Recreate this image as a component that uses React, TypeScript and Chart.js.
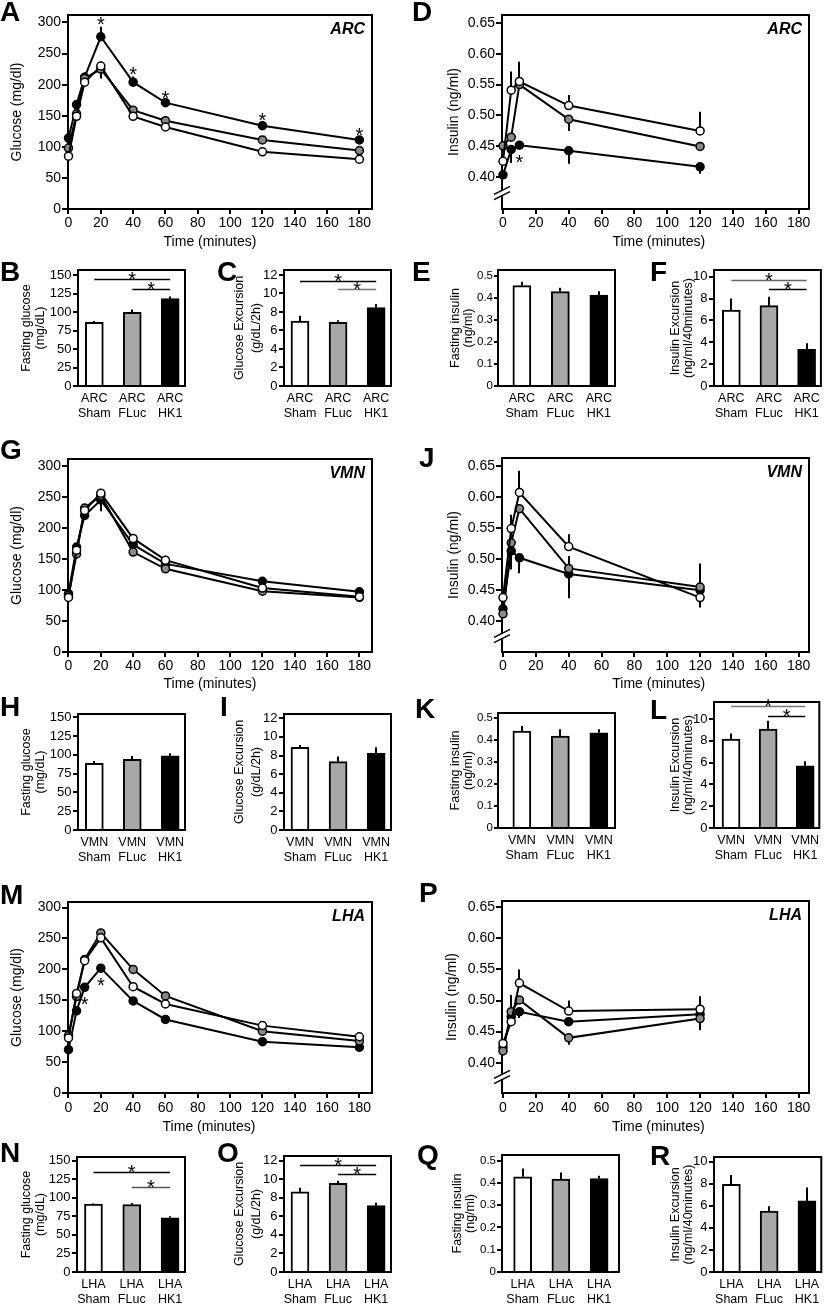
import React, { useEffect, useRef } from "react";
import { Chart, registerables } from "chart.js";

Chart.register(...registerables);

const FONT = "'Liberation Sans', Arial, Helvetica, sans-serif";

// ---------------- shared ticks / categories ----------------
const timeTicks = [0, 20, 40, 60, 80, 100, 120, 140, 160, 180];
const glucoseTimes = [0, 5, 10, 20, 40, 60, 120, 180];
const insulinTimes = [0, 5, 10, 40, 120];
const glucoseTicks = [0, 50, 100, 150, 200, 250, 300];
const glucoseTickLabels = ["0", "50", "100", "150", "200", "250", "300"];
const insulinTicks = [0.4, 0.45, 0.5, 0.55, 0.6, 0.65];
const insulinTickLabels = ["0.40", "0.45", "0.50", "0.55", "0.60", "0.65"];
const fastingGlucoseTicks = [0, 25, 50, 75, 100, 125, 150];
const fastingGlucoseTickLabels = ["0", "25", "50", "75", "100", "125", "150"];
const glucoseExcursionTicks = [0, 2, 4, 6, 8, 10, 12];
const glucoseExcursionTickLabels = ["0", "2", "4", "6", "8", "10", "12"];
const fastingInsulinTicks = [0, 0.1, 0.2, 0.3, 0.4, 0.5];
const fastingInsulinTickLabels = ["0", "0.1", "0.2", "0.3", "0.4", "0.5"];
const insulinExcursionTicks = [0, 2, 4, 6, 8, 10];
const insulinExcursionTickLabels = ["0", "2", "4", "6", "8", "10"];
const groupNames = ["Sham", "FLuc", "HK1"];
const groupIndex = [0, 1, 2];

// ---------------- ARC ----------------
const arcGlucoseSham = [85, 149, 204, 230, 149, 132, 92, 80];
const arcGlucoseShamErr = [3, 3, 3, 6, 3, 3, 3, 3];
const arcGlucoseFluc = [98, 153, 210, 225, 159, 142, 111, 94];
const arcGlucoseFlucErr = [3, 3, 4, -15, 3, 3, 3, 3];
const arcGlucoseHk1 = [114, 168, 212, 277, 204, 171, 134, 111];
const arcGlucoseHk1Err = [4, 4, 8, 16, 9, 3, 5, 4];
const arcGlucoseStarTimes = [20, 40, 60, 120, 180];

const arcInsulinSham = [0.426, 0.541, 0.555, 0.516, 0.475];
const arcInsulinShamErr = [0.004, 0.03, 0.032, 0.017, 0.031];
const arcInsulinFluc = [0.451, 0.465, 0.55, 0.494, 0.45];
const arcInsulinFlucErr = [0.004, 0.004, 0.004, -0.019, 0.004];
const arcInsulinHk1 = [0.404, 0.445, 0.452, 0.443, 0.417];
const arcInsulinHk1Err = [0.004, -0.022, 0.004, -0.021, -0.011];
const arcInsulinStarTimes = [10];

const arcFastingGlucose = [86, 99.5, 118];
const arcFastingGlucoseErr = [2, 4, 3];
const arcGlucoseExcursion = [7.03, 6.88, 8.47];
const arcGlucoseExcursionErr = [0.57, 0.23, 0.4];
const arcFastingInsulin = [0.455, 0.428, 0.412];
const arcFastingInsulinErr = [0.018, 0.018, 0.018];
const arcInsulinExcursion = [6.95, 7.35, 3.35];
const arcInsulinExcursionErr = [1.05, 0.82, 0.55];

// ---------------- VMN ----------------
const vmnGlucoseSham = [88, 164, 228, 256, 183, 148, 103, 89];
const vmnGlucoseShamErr = [3, 3, 4, 4, 4, 3, 3, 3];
const vmnGlucoseFluc = [91, 158, 232, 252, 161, 134, 98, 88];
const vmnGlucoseFlucErr = [3, 3, 3, 4, -6, -5, -5, -5];
const vmnGlucoseHk1 = [94, 169, 220, 245, 173, 142, 114, 97];
const vmnGlucoseHk1Err = [3, 3, -6, -18, 4, 3, 7, 5];

const vmnInsulinSham = [0.438, 0.549, 0.607, 0.52, 0.438];
const vmnInsulinShamErr = [0.004, 0.01, 0.035, 0.02, -0.016];
const vmnInsulinFluc = [0.412, 0.526, 0.581, 0.485, 0.455];
const vmnInsulinFlucErr = [0.004, 0.045, 0.004, 0.02, 0.038];
const vmnInsulinHk1 = [0.42, 0.513, 0.502, 0.476, 0.45];
const vmnInsulinHk1Err = [0.004, -0.03, -0.025, -0.039, 0.004];

const vmnFastingGlucose = [88.8, 94.1, 98.6];
const vmnFastingGlucoseErr = [3, 4.5, 3.5];
const vmnGlucoseExcursion = [8.89, 7.35, 8.24];
const vmnGlucoseExcursionErr = [0.25, 0.55, 0.65];
const vmnFastingInsulin = [0.442, 0.419, 0.434];
const vmnFastingInsulinErr = [0.023, 0.031, 0.016];
const vmnInsulinExcursion = [8.16, 9.08, 5.71];
const vmnInsulinExcursionErr = [0.52, 0.77, 0.42];

// ---------------- LHA ----------------
const lhaGlucoseSham = [89, 161, 214, 251, 172, 144, 109, 91];
const lhaGlucoseShamErr = [3, 3, 6, 3, 3, 3, 3, 3];
const lhaGlucoseFluc = [93, 156, 216, 259, 200, 157, 100, 84];
const lhaGlucoseFlucErr = [3, 3, 7, 3, 5, 3, 3, 3];
const lhaGlucoseHk1 = [70, 133, 171, 202, 149, 119, 83, 74];
const lhaGlucoseHk1Err = [3, 3, 3, 3, 3, -4, -4, -3];
const lhaGlucoseStarTimes = [10, 20];

const lhaInsulinSham = [0.431, 0.466, 0.528, 0.483, 0.486];
const lhaInsulinShamErr = [0.004, 0.004, 0.022, 0.017, 0.021];
const lhaInsulinFluc = [0.419, 0.482, 0.501, 0.44, 0.471];
const lhaInsulinFlucErr = [0.004, 0.027, 0.004, -0.011, -0.019];
const lhaInsulinHk1 = [0.425, 0.474, 0.482, 0.466, 0.478];
const lhaInsulinHk1Err = [0.004, -0.008, -0.01, -0.004, 0.004];

const lhaFastingGlucose = [91.4, 91, 73];
const lhaFastingGlucoseErr = [1, 2, 2.2];
const lhaGlucoseExcursion = [8.65, 9.55, 7.15];
const lhaGlucoseExcursionErr = [0.43, 0.29, 0.31];
const lhaFastingInsulin = [0.428, 0.417, 0.42];
const lhaFastingInsulinErr = [0.037, 0.03, 0.012];
const lhaInsulinExcursion = [7.94, 5.52, 6.45];
const lhaInsulinExcursionErr = [0.85, 0.45, 1.22];

// significance brackets: [from group, to group, level (data units), colour]
const arcFastingGlucoseSig: any[] = [[0, 2, 145, "#000"], [1, 2, 131, "#000"]];
const arcGlucoseExcursionSig: any[] = [[0, 2, 11.4, "#000"], [1, 2, 10.45, "#777"]];
const arcInsulinExcursionSig: any[] = [[0, 2, 9.7, "#666"], [1, 2, 8.87, "#000"]];
const vmnInsulinExcursionSig: any[] = [[0, 2, 11.16, "#777"], [1, 2, 10.33, "#000"]];
const lhaFastingGlucoseSig: any[] = [[0, 2, 135, "#000"], [1, 2, 115, "#555"]];
const lhaGlucoseExcursionSig: any[] = [[0, 2, 11.54, "#000"], [1, 2, 10.54, "#000"]];

// ---------------- styles ----------------
const WHITE = "#ffffff";
const GRAY_PT = "#8a8a8a";
const GRAY_BAR = "#a8a8a8";
const BLACK = "#000000";
const STAR_SIZE = 20;

function drawStar(ctx: any, x: number, yc: number, size: number) {
  ctx.font = `${size}px ${FONT}`;
  ctx.textAlign = "center";
  ctx.textBaseline = "alphabetic";
  ctx.fillStyle = "#000";
  ctx.fillText("*", x, yc + 0.58 * size);
}

const decoPlugin: any = {
  id: "panelDeco",
  beforeDatasetsDraw(chart: any, _a: any, o: any) {
    const { ctx, chartArea: a } = chart;
    const xs = chart.scales.x;
    const ys = chart.scales.y;
    ctx.save();
    ctx.strokeStyle = "#000";
    ctx.lineWidth = 2;
    ctx.strokeRect(a.left, a.top, a.right - a.left, a.bottom - a.top);
    chart.data.datasets.forEach((ds: any) => {
      if (!ds.errors) return;
      ctx.strokeStyle = "#000";
      ctx.lineWidth = o.errWidth || 2;
      ds.data.forEach((pt: any, i: number) => {
        const e = ds.errors[i];
        if (!e) return;
        const x = Math.round(xs.getPixelForValue(pt.x));
        ctx.beginPath();
        ctx.moveTo(x, ys.getPixelForValue(pt.y));
        ctx.lineTo(x, ys.getPixelForValue(pt.y + e));
        ctx.stroke();
      });
    });
    ctx.restore();
  },
  afterDraw(chart: any, _a: any, o: any) {
    const { ctx, chartArea: a } = chart;
    const xs = chart.scales.x;
    const ys = chart.scales.y;
    ctx.save();
    if (o.axisBreak) {
      const x = a.left;
      const y = a.bottom - 16;
      ctx.strokeStyle = "#fff";
      ctx.lineWidth = 4;
      ctx.beginPath();
      ctx.moveTo(x - 4, y + 2);
      ctx.lineTo(x + 4, y - 2);
      ctx.stroke();
      ctx.strokeStyle = "#000";
      ctx.lineWidth = 1.6;
      [-2.6, 2.6].forEach((d) => {
        ctx.beginPath();
        ctx.moveTo(x - 8, y + 4 + d);
        ctx.lineTo(x + 8, y - 4 + d);
        ctx.stroke();
      });
    }
    if (o.region) {
      ctx.font = `italic bold 16px ${FONT}`;
      ctx.textAlign = "right";
      ctx.textBaseline = "middle";
      ctx.fillStyle = "#000";
      ctx.fillText(o.region, a.right - 7, a.top + 14.5);
    }
    if (o.xTitle) {
      ctx.font = `14px ${FONT}`;
      ctx.textAlign = "center";
      ctx.textBaseline = "middle";
      ctx.fillStyle = "#000";
      ctx.fillText(o.xTitle.text, o.xTitle.x, o.xTitle.y);
    }
    (o.stars || []).forEach((s: any) => {
      const ds = chart.data.datasets[s.series];
      s.times.forEach((t: number) => {
        const i = ds.data.findIndex((p: any) => p.x === t);
        if (i < 0) return;
        const pt = ds.data[i];
        const e = ds.errors ? ds.errors[i] : 0;
        const x = xs.getPixelForValue(t);
        const y = s.below
          ? ys.getPixelForValue(pt.y) + 12
          : ys.getPixelForValue(pt.y + Math.max(e, 0)) - 7;
        drawStar(ctx, x, y, STAR_SIZE);
      });
    });
    (o.brackets || []).forEach((b: any) => {
      const y = Math.round(ys.getPixelForValue(b[2])) + 0.5;
      const x1 = xs.getPixelForValue(b[0]);
      const x2 = xs.getPixelForValue(b[1]);
      ctx.strokeStyle = b[3];
      ctx.lineWidth = 1.4;
      ctx.beginPath();
      ctx.moveTo(x1, y);
      ctx.lineTo(x2, y);
      ctx.stroke();
      drawStar(ctx, (x1 + x2) / 2, y - 5, STAR_SIZE);
    });
    ctx.restore();
  },
};

type Box = { x: number; y: number; w: number; h: number };
type Frame = { l: number; t: number; r: number; b: number };

function lineConfig(p: any) {
  const c: Box = p.canvas;
  const f: Frame = p.frame;
  const fs = 14;
  const lh = fs * 1.2;
  const yAxisW = f.l - c.x;
  const xAxisH = c.y + c.h - f.b;
  const fills = [WHITE, GRAY_PT, BLACK];
  return {
    type: "line",
    data: {
      datasets: p.series.map((s: any, k: number) => ({
        data: p.times.map((t: number, i: number) => ({ x: t, y: s.values[i] })),
        errors: s.errors,
        borderColor: "#000",
        borderWidth: 2,
        pointRadius: 4,
        pointHoverRadius: 4,
        pointBorderWidth: 1.5,
        pointBackgroundColor: fills[k],
        pointBorderColor: "#000",
        clip: false,
        tension: 0,
        fill: false,
      })),
    },
    options: {
      responsive: false,
      animation: false,
      events: [],
      layout: { padding: { top: f.t - c.y, right: c.x + c.w - f.r, left: 0, bottom: 0 } },
      plugins: {
        legend: { display: false },
        tooltip: { enabled: false },
        panelDeco: {
          region: p.region,
          axisBreak: p.axisBreak,
          stars: p.stars,
          xTitle: { text: "Time (minutes)", x: p.xTitleX - c.x, y: p.xTitleY - c.y },
        },
      },
      scales: {
        x: {
          type: "linear",
          position: "bottom",
          min: p.xMin,
          max: p.xMax,
          offset: false,
          afterBuildTicks: (s: any) => {
            s.ticks = timeTicks.map((v) => ({ value: v }));
          },
          afterFit: (s: any) => {
            s.height = xAxisH;
          },
          ticks: {
            autoSkip: false,
            maxRotation: 0,
            color: "#000",
            font: { size: fs, lineHeight: 1.2 },
            padding: p.xTickLabelY - f.b - 5 - lh / 2,
            callback: (v: any) => String(v),
          },
          grid: { display: true, drawOnChartArea: false, drawTicks: true, tickLength: 5, color: "#000", lineWidth: 2 },
          border: { display: false },
        },
        y: {
          type: "linear",
          min: p.yMin,
          max: p.yMax,
          afterBuildTicks: (s: any) => {
            s.ticks = p.yTicks.map((v: number) => ({ value: v }));
          },
          afterFit: (s: any) => {
            s.width = yAxisW;
          },
          ticks: {
            autoSkip: false,
            color: "#000",
            font: { size: fs, lineHeight: 1.2 },
            padding: 1,
            callback: (_v: any, i: number) => p.yTickLabels[i],
          },
          grid: { display: true, drawOnChartArea: false, drawTicks: true, tickLength: 6, color: "#000", lineWidth: 2 },
          border: { display: false },
          title: {
            display: true,
            text: p.yTitle,
            color: "#000",
            font: { size: fs, lineHeight: 1.2 },
            padding: { top: p.yTitleX - c.x - lh / 2, bottom: 0 },
          },
        },
      },
    },
    plugins: [decoPlugin],
  };
}

function barConfig(p: any) {
  const c: Box = p.canvas;
  const f: Frame = p.frame;
  const fs = 12.5;
  const tlh = p.titleLH || 13.4;
  const xlh = 15;
  const yAxisW = f.l - c.x;
  const xAxisH = c.y + c.h - f.b;
  return {
    type: "bar",
    data: {
      datasets: [
        {
          data: groupIndex.map((g) => ({ x: g, y: p.values[g] })),
          errors: p.errors,
          backgroundColor: [WHITE, GRAY_BAR, BLACK],
          borderColor: "#000",
          borderWidth: 2,
          borderSkipped: "start",
          barThickness: 18,
        },
      ],
    },
    options: {
      responsive: false,
      animation: false,
      events: [],
      layout: { padding: { top: f.t - c.y, right: c.x + c.w - f.r, left: 0, bottom: 0 } },
      plugins: {
        legend: { display: false },
        tooltip: { enabled: false },
        panelDeco: { brackets: p.brackets, errWidth: 2 },
      },
      scales: {
        x: {
          type: "linear",
          position: "bottom",
          min: p.xMin,
          max: p.xMax,
          offset: false,
          afterBuildTicks: (s: any) => {
            s.ticks = groupIndex.map((v) => ({ value: v }));
          },
          afterFit: (s: any) => {
            s.height = xAxisH;
          },
          ticks: {
            autoSkip: false,
            maxRotation: 0,
            color: "#000",
            font: { size: fs, lineHeight: `${xlh}px` },
            padding: p.xLabelY - f.b - xlh / 2,
            callback: (_v: any, i: number) => [p.region, groupNames[i]],
          },
          grid: { display: false, drawTicks: false, offset: false },
          border: { display: false },
        },
        y: {
          type: "linear",
          min: 0,
          max: p.yMax,
          afterBuildTicks: (s: any) => {
            s.ticks = p.yTicks.map((v: number) => ({ value: v }));
          },
          afterFit: (s: any) => {
            s.width = yAxisW;
          },
          ticks: {
            autoSkip: false,
            color: "#000",
            font: { size: p.tickSize || 13, lineHeight: 1.2 },
            padding: p.tickPad ?? 1.5,
            callback: (_v: any, i: number) => p.yTickLabels[i],
          },
          grid: { display: true, drawOnChartArea: false, drawTicks: true, tickLength: p.tickLen || 5, color: "#000", lineWidth: 2 },
          border: { display: false },
          title: {
            display: true,
            text: p.yTitle,
            color: "#000",
            font: { size: fs, lineHeight: `${tlh}px` },
            padding: { top: p.yTitleX - c.x - tlh / 2, bottom: 0 },
          },
        },
      },
    },
    plugins: [decoPlugin],
  };
}

// ---------------- panels ----------------
const linePanels: any[] = [
  {
    letter: "A", letterX: 0, letterY: 2,
    canvas: { x: 0, y: 0, w: 392, h: 256 }, frame: { l: 68, t: 15, r: 372, b: 209 },
    times: glucoseTimes,
    series: [
      { values: arcGlucoseSham, errors: arcGlucoseShamErr },
      { values: arcGlucoseFluc, errors: arcGlucoseFlucErr },
      { values: arcGlucoseHk1, errors: arcGlucoseHk1Err },
    ],
    xMin: -0.3, xMax: 187.8, yMin: 0, yMax: 312,
    yTicks: glucoseTicks, yTickLabels: glucoseTickLabels,
    yTitle: "Glucose (mg/dl)", yTitleX: 16.7,
    xTickLabelY: 222.7, xTitleX: 210, xTitleY: 242.3,
    region: "ARC", stars: [{ series: 2, times: arcGlucoseStarTimes, below: false }],
  },
  {
    letter: "D", letterX: 412, letterY: 2,
    canvas: { x: 412, y: 0, w: 413, h: 256 }, frame: { l: 502, t: 15, r: 809, b: 209 },
    times: insulinTimes,
    series: [
      { values: arcInsulinSham, errors: arcInsulinShamErr },
      { values: arcInsulinFluc, errors: arcInsulinFlucErr },
      { values: arcInsulinHk1, errors: arcInsulinHk1Err },
    ],
    xMin: -0.6, xMax: 186.3, yMin: 0.3488, yMax: 0.6625,
    yTicks: insulinTicks, yTickLabels: insulinTickLabels,
    yTitle: "Insulin (ng/ml)", yTitleX: 453.7,
    xTickLabelY: 222.7, xTitleX: 658.8, xTitleY: 242.3,
    region: "ARC", axisBreak: true, stars: [{ series: 2, times: arcInsulinStarTimes, below: true }],
  },
  {
    letter: "G", letterX: 0, letterY: 440,
    canvas: { x: 0, y: 444, w: 392, h: 255 }, frame: { l: 68, t: 459, r: 372, b: 652 },
    times: glucoseTimes,
    series: [
      { values: vmnGlucoseSham, errors: vmnGlucoseShamErr },
      { values: vmnGlucoseFluc, errors: vmnGlucoseFlucErr },
      { values: vmnGlucoseHk1, errors: vmnGlucoseHk1Err },
    ],
    xMin: -0.3, xMax: 187.8, yMin: 0, yMax: 311,
    yTicks: glucoseTicks, yTickLabels: glucoseTickLabels,
    yTitle: "Glucose (mg/dl)", yTitleX: 16.7,
    xTickLabelY: 665.7, xTitleX: 210, xTitleY: 684.3,
    region: "VMN",
  },
  {
    letter: "J", letterX: 419, letterY: 448,
    canvas: { x: 412, y: 444, w: 413, h: 255 }, frame: { l: 502, t: 458, r: 809, b: 652 },
    times: insulinTimes,
    series: [
      { values: vmnInsulinSham, errors: vmnInsulinShamErr },
      { values: vmnInsulinFluc, errors: vmnInsulinFlucErr },
      { values: vmnInsulinHk1, errors: vmnInsulinHk1Err },
    ],
    xMin: -0.6, xMax: 186.3, yMin: 0.3506, yMax: 0.6624,
    yTicks: insulinTicks, yTickLabels: insulinTickLabels,
    yTitle: "Insulin (ng/ml)", yTitleX: 453.7,
    xTickLabelY: 665.7, xTitleX: 658.7, xTitleY: 684.3,
    region: "VMN", axisBreak: true,
  },
  {
    letter: "M", letterX: 0, letterY: 885,
    canvas: { x: 0, y: 887, w: 392, h: 253 }, frame: { l: 68, t: 902, r: 372, b: 1093 },
    times: glucoseTimes,
    series: [
      { values: lhaGlucoseSham, errors: lhaGlucoseShamErr },
      { values: lhaGlucoseFluc, errors: lhaGlucoseFlucErr },
      { values: lhaGlucoseHk1, errors: lhaGlucoseHk1Err },
    ],
    xMin: -0.3, xMax: 187.8, yMin: 0, yMax: 309,
    yTicks: glucoseTicks, yTickLabels: glucoseTickLabels,
    yTitle: "Glucose (mg/dl)", yTitleX: 16.7,
    xTickLabelY: 1108, xTitleX: 209, xTitleY: 1126.7,
    region: "LHA", stars: [{ series: 2, times: lhaGlucoseStarTimes, below: true }],
  },
  {
    letter: "P", letterX: 419, letterY: 883,
    canvas: { x: 412, y: 886, w: 413, h: 254 }, frame: { l: 502, t: 901, r: 809, b: 1093 },
    times: insulinTimes,
    series: [
      { values: lhaInsulinSham, errors: lhaInsulinShamErr },
      { values: lhaInsulinFluc, errors: lhaInsulinFlucErr },
      { values: lhaInsulinHk1, errors: lhaInsulinHk1Err },
    ],
    xMin: -0.6, xMax: 186.3, yMin: 0.3513, yMax: 0.66,
    yTicks: insulinTicks, yTickLabels: insulinTickLabels,
    yTitle: "Insulin (ng/ml)", yTitleX: 452,
    xTickLabelY: 1108, xTitleX: 658.3, xTitleY: 1126.7,
    region: "LHA", axisBreak: true,
  },
];

const fgTitle = ["Fasting glucose", "(mg/dL)"];
const geTitle = ["Glucose Excursion", "(g/dL/2h)"];
const fiTitle = ["Fasting insulin", "(ng/ml)"];
const ieTitle = ["Insulin Excursion", "(ng/ml/40minutes)"];

const barPanels: any[] = [
  // row ARC
  { letter: "B", letterX: 0, letterY: 262, canvas: { x: 0, y: 256, w: 198, h: 172 }, frame: { l: 78, t: 270, r: 185, b: 386 },
    values: arcFastingGlucose, errors: arcFastingGlucoseErr, region: "ARC", yMax: 156.8, yTicks: fastingGlucoseTicks, yTickLabels: fastingGlucoseTickLabels,
    yTitle: fgTitle, yTitleX: 26.7, xMin: -0.43, xMax: 2.39, xLabelY: 398.3, brackets: arcFastingGlucoseSig },
  { letter: "C", letterX: 217, letterY: 262, canvas: { x: 200, y: 256, w: 205, h: 172 }, frame: { l: 284, t: 270, r: 391, b: 386 },
    values: arcGlucoseExcursion, errors: arcGlucoseExcursionErr, region: "ARC", yMax: 12.54, yTicks: glucoseExcursionTicks, yTickLabels: glucoseExcursionTickLabels,
    yTitle: geTitle, yTitleX: 240, titleLH: 17, xMin: -0.42, xMax: 2.39, xLabelY: 398.3, brackets: arcGlucoseExcursionSig },
  { letter: "E", letterX: 412, letterY: 262, canvas: { x: 412, y: 256, w: 215, h: 172 }, frame: { l: 498, t: 270, r: 615, b: 386 },
    values: arcFastingInsulin, errors: arcFastingInsulinErr, region: "ARC", yMax: 0.526, yTicks: fastingInsulinTicks, yTickLabels: fastingInsulinTickLabels,
    yTitle: fiTitle, yTitleX: 455.5, tickSize: 11.5, tickLen: 4, tickPad: 1, xMin: -0.62, xMax: 2.42, xLabelY: 398.3 },
  { letter: "F", letterX: 650, letterY: 262, canvas: { x: 630, y: 256, w: 195, h: 172 }, frame: { l: 714, t: 270, r: 822, b: 386 },
    values: arcInsulinExcursion, errors: arcInsulinExcursionErr, region: "ARC", yMax: 10.61, yTicks: insulinExcursionTicks, yTickLabels: insulinExcursionTickLabels,
    yTitle: ieTitle, yTitleX: 675.3, xMin: -0.46, xMax: 2.38, xLabelY: 398.3, brackets: arcInsulinExcursionSig },
  // row VMN
  { letter: "H", letterX: 0, letterY: 697, canvas: { x: 0, y: 700, w: 198, h: 172 }, frame: { l: 78, t: 714, r: 185, b: 830 },
    values: vmnFastingGlucose, errors: vmnFastingGlucoseErr, region: "VMN", yMax: 154.4, yTicks: fastingGlucoseTicks, yTickLabels: fastingGlucoseTickLabels,
    yTitle: fgTitle, yTitleX: 26.7, xMin: -0.43, xMax: 2.39, xLabelY: 842.7 },
  { letter: "I", letterX: 220, letterY: 697, canvas: { x: 200, y: 700, w: 205, h: 172 }, frame: { l: 284, t: 714, r: 391, b: 830 },
    values: vmnGlucoseExcursion, errors: vmnGlucoseExcursionErr, region: "VMN", yMax: 12.46, yTicks: glucoseExcursionTicks, yTickLabels: glucoseExcursionTickLabels,
    yTitle: geTitle, yTitleX: 240, titleLH: 17, xMin: -0.42, xMax: 2.39, xLabelY: 842.7 },
  { letter: "K", letterX: 415, letterY: 699, canvas: { x: 412, y: 699, w: 215, h: 171 }, frame: { l: 498, t: 713, r: 615, b: 828 },
    values: vmnFastingInsulin, errors: vmnFastingInsulinErr, region: "VMN", yMax: 0.524, yTicks: fastingInsulinTicks, yTickLabels: fastingInsulinTickLabels,
    yTitle: fiTitle, yTitleX: 455.5, tickSize: 11.5, tickLen: 4, tickPad: 1, xMin: -0.62, xMax: 2.42, xLabelY: 841 },
  { letter: "L", letterX: 650, letterY: 700, canvas: { x: 630, y: 688, w: 195, h: 182 }, frame: { l: 714, t: 702, r: 822, b: 828 },
    values: vmnInsulinExcursion, errors: vmnInsulinExcursionErr, region: "VMN", yMax: 11.57, yTicks: insulinExcursionTicks, yTickLabels: insulinExcursionTickLabels,
    yTitle: ieTitle, yTitleX: 675.3, xMin: -0.46, xMax: 2.38, xLabelY: 841, brackets: vmnInsulinExcursionSig },
  // row LHA
  { letter: "N", letterX: 0, letterY: 1143, canvas: { x: 0, y: 1143, w: 198, h: 161 }, frame: { l: 77, t: 1157, r: 185, b: 1272 },
    values: lhaFastingGlucose, errors: lhaFastingGlucoseErr, region: "LHA", yMax: 155, yTicks: fastingGlucoseTicks, yTickLabels: fastingGlucoseTickLabels,
    yTitle: fgTitle, yTitleX: 26.7, xMin: -0.43, xMax: 2.39, xLabelY: 1285, brackets: lhaFastingGlucoseSig },
  { letter: "O", letterX: 217, letterY: 1143, canvas: { x: 200, y: 1142, w: 205, h: 162 }, frame: { l: 284, t: 1156, r: 391, b: 1272 },
    values: lhaGlucoseExcursion, errors: lhaGlucoseExcursionErr, region: "LHA", yMax: 12.5, yTicks: glucoseExcursionTicks, yTickLabels: glucoseExcursionTickLabels,
    yTitle: geTitle, yTitleX: 240, titleLH: 17, xMin: -0.42, xMax: 2.39, xLabelY: 1285, brackets: lhaGlucoseExcursionSig },
  { letter: "Q", letterX: 417, letterY: 1145, canvas: { x: 412, y: 1141, w: 215, h: 163 }, frame: { l: 502, t: 1155, r: 619, b: 1272 },
    values: lhaFastingInsulin, errors: lhaFastingInsulinErr, region: "LHA", yMax: 0.5256, yTicks: fastingInsulinTicks, yTickLabels: fastingInsulinTickLabels,
    yTitle: fiTitle, yTitleX: 457.5, tickSize: 11.5, tickLen: 5, tickPad: 1, xMin: -0.54, xMax: 2.52, xLabelY: 1285 },
  { letter: "R", letterX: 650, letterY: 1146, canvas: { x: 630, y: 1143, w: 195, h: 161 }, frame: { l: 714, t: 1157, r: 822, b: 1272 },
    values: lhaInsulinExcursion, errors: lhaInsulinExcursionErr, region: "LHA", yMax: 10.43, yTicks: insulinExcursionTicks, yTickLabels: insulinExcursionTickLabels,
    yTitle: ieTitle, yTitleX: 675.3, xMin: -0.46, xMax: 2.38, xLabelY: 1285 },
];

const allPanels = [
  ...linePanels.map((p) => ({ p, config: lineConfig(p) })),
  ...barPanels.map((p) => ({ p, config: barConfig(p) })),
];

function ChartCanvas({ box, config }: { box: Box; config: any }) {
  const ref = useRef<HTMLCanvasElement | null>(null);
  useEffect(() => {
    if (!ref.current) return;
    const chart = new Chart(ref.current, config);
    return () => chart.destroy();
  }, [config]);
  return (
    <div style={{ position: "absolute", left: box.x, top: box.y, width: box.w, height: box.h }}>
      <canvas ref={ref} width={box.w} height={box.h} style={{ width: box.w, height: box.h, display: "block" }} />
    </div>
  );
}

export default function App() {
  useEffect(() => {
    document.body.style.margin = "0";
    document.body.style.background = "#fff";
  }, []);
  return (
    <div style={{ position: "absolute", left: 0, top: 0, width: 825, height: 1304, background: "#fff", overflow: "hidden", fontFamily: FONT }}>
      {allPanels.map(({ p, config }) => (
        <ChartCanvas key={p.letter} box={p.canvas} config={config} />
      ))}
      {allPanels.map(({ p }) => (
        <div
          key={"L" + p.letter}
          style={{ position: "absolute", left: p.letterX, top: p.letterY - 4, font: `bold 28px ${FONT}`, lineHeight: "28px", color: "#000", zIndex: 5 }}
        >
          {p.letter}
        </div>
      ))}
    </div>
  );
}
